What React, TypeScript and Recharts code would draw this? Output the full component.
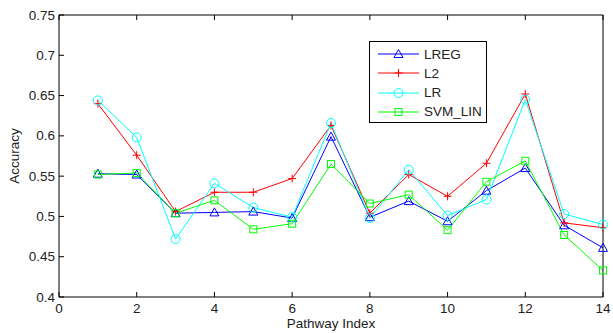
import React from 'react';
import { LineChart, Line, XAxis, YAxis } from 'recharts';

// Pathway index 1..14
const pathways = [1, 2, 3, 4, 5, 6, 7, 8, 9, 10, 11, 12, 13, 14];
const lregValues = [0.553, 0.552, 0.504, 0.505, 0.506, 0.498, 0.599, 0.499, 0.519, 0.494, 0.532, 0.560, 0.489, 0.461];
const l2Values = [0.640, 0.576, 0.506, 0.530, 0.530, 0.547, 0.613, 0.504, 0.552, 0.525, 0.566, 0.652, 0.492, 0.486];
const lrValues = [0.644, 0.598, 0.472, 0.541, 0.511, 0.499, 0.616, 0.498, 0.558, 0.501, 0.521, 0.645, 0.503, 0.490];
const svmValues = [0.552, 0.554, 0.504, 0.520, 0.484, 0.491, 0.565, 0.516, 0.527, 0.483, 0.543, 0.569, 0.477, 0.433];

const xTicks = [0, 2, 4, 6, 8, 10, 12, 14];
const yTicks = [0.4, 0.45, 0.5, 0.55, 0.6, 0.65, 0.7, 0.75];

const data = pathways.map((p, i) => ({
  x: p,
  LREG: lregValues[i],
  L2: l2Values[i],
  LR: lrValues[i],
  SVM_LIN: svmValues[i],
}));

const FONT = '"Liberation Sans", Arial, Helvetica, sans-serif';
const FONT_SIZE = 13.5;
const TICK_LEN = 5;

const fmt = (v: number) => String(Number(v.toFixed(2)));

const LeftTick = ({ x, y, payload }: any) => (
  <g>
    <line x1={x} x2={x + TICK_LEN} y1={y} y2={y} stroke="#000" strokeWidth={1} />
    <text x={x - 4} y={y} textAnchor="end" dominantBaseline="central" fontSize={FONT_SIZE} fontFamily={FONT} fill="#222">
      {fmt(payload.value)}
    </text>
  </g>
);

const RightTick = ({ x, y }: any) => (
  <line x1={x} x2={x - TICK_LEN} y1={y} y2={y} stroke="#000" strokeWidth={1} />
);

const BottomTick = ({ x, y, payload }: any) => (
  <g>
    <line x1={x} x2={x} y1={y} y2={y - TICK_LEN} stroke="#000" strokeWidth={1} />
    <text x={x} y={y + 16} textAnchor="middle" fontSize={FONT_SIZE} fontFamily={FONT} fill="#222">
      {payload.value}
    </text>
  </g>
);

const TopTick = ({ x, y }: any) => (
  <line x1={x} x2={x} y1={y} y2={y + TICK_LEN} stroke="#000" strokeWidth={1} />
);

// markers
const Triangle = ({ cx, cy, color }: any) => (
  <polygon
    points={`${cx},${cy - 4.5} ${cx - 4.5},${cy + 3.5} ${cx + 4.5},${cy + 3.5}`}
    fill="none"
    stroke={color}
    strokeWidth={1}
  />
);
const Plus = ({ cx, cy, color }: any) => (
  <path d={`M${cx - 4},${cy}H${cx + 4}M${cx},${cy - 4}V${cy + 4}`} stroke={color} strokeWidth={1} fill="none" />
);
const Circle = ({ cx, cy, color }: any) => (
  <circle cx={cx} cy={cy} r={4.5} fill="none" stroke={color} strokeWidth={1} />
);
const Square = ({ cx, cy, color }: any) => (
  <rect x={cx - 3.5} y={cy - 3.5} width={7} height={7} fill="none" stroke={color} strokeWidth={1} />
);

const series = [
  { key: 'LREG', color: '#0000ff', Marker: Triangle },
  { key: 'L2', color: '#ff0000', Marker: Plus },
  { key: 'LR', color: '#00ffff', Marker: Circle },
  { key: 'SVM_LIN', color: '#00ff00', Marker: Square },
];

const LegendBox = () => (
  <div
    style={{
      position: 'absolute',
      left: 369,
      top: 41,
      width: 116,
      height: 80,
      border: '1.5px solid #000',
      background: '#fff',
      fontFamily: FONT,
      fontSize: FONT_SIZE,
      color: '#222',
    }}
  >
    {series.map(({ key, color, Marker }, i) => (
      <div key={key} style={{ position: 'absolute', left: 0, top: 3 + i * 19.3, height: 18, display: 'flex', alignItems: 'center' }}>
        <svg width={52} height={18} style={{ display: 'block' }}>
          <line x1={8} x2={49} y1={9} y2={9} stroke={color} strokeWidth={1} />
          <Marker cx={28.5} cy={9} color={color} />
        </svg>
        <span style={{ marginLeft: 2 }}>{key}</span>
      </div>
    ))}
  </div>
);

export default function App() {
  return (
    <div style={{ position: 'absolute', left: 0, top: 0, width: 613, height: 333, background: '#fff' }}>
      <LineChart width={613} height={333} data={data} margin={{ top: 10, right: 5, bottom: 6, left: 19 }}>
        <XAxis
          xAxisId="b"
          dataKey="x"
          type="number"
          domain={[0, 14]}
          ticks={xTicks}
          interval={0}
          height={30}
          tickSize={0}
          tickMargin={0}
          tickLine={false}
          axisLine={{ stroke: '#000' }}
          tick={<BottomTick />}
        />
        <XAxis
          xAxisId="t"
          orientation="top"
          dataKey="x"
          type="number"
          domain={[0, 14]}
          ticks={xTicks}
          interval={0}
          height={5}
          tickSize={0}
          tickMargin={0}
          tickLine={false}
          axisLine={{ stroke: '#000' }}
          tick={<TopTick />}
        />
        <YAxis
          yAxisId="l"
          type="number"
          domain={[0.4, 0.75]}
          ticks={yTicks}
          interval={0}
          width={40}
          tickSize={0}
          tickMargin={0}
          tickLine={false}
          axisLine={{ stroke: '#000' }}
          tick={<LeftTick />}
          label={{
            value: 'Accuracy',
            angle: -90,
            position: 'insideLeft',
            dx: -10,
            style: { textAnchor: 'middle', fontSize: FONT_SIZE, fontFamily: FONT, fill: '#222' },
          }}
        />
        <YAxis
          yAxisId="r"
          orientation="right"
          type="number"
          domain={[0.4, 0.75]}
          ticks={yTicks}
          interval={0}
          width={5}
          tickSize={0}
          tickMargin={0}
          tickLine={false}
          axisLine={{ stroke: '#000' }}
          tick={<RightTick />}
        />
        {series.map(({ key, color, Marker }) => (
          <Line
            key={key}
            xAxisId="b"
            yAxisId="l"
            dataKey={key}
            stroke={color}
            strokeWidth={1}
            type="linear"
            isAnimationActive={false}
            dot={(p: any) => <Marker key={`${key}-${p.index}`} cx={p.cx} cy={p.cy} color={color} />}
            activeDot={false}
          />
        ))}
      </LineChart>
      <div
        style={{
          position: 'absolute',
          left: 59,
          width: 544,
          top: 316,
          textAlign: 'center',
          fontFamily: FONT,
          fontSize: FONT_SIZE,
          color: '#222',
        }}
      >
        Pathway Index
      </div>
      <LegendBox />
    </div>
  );
}
